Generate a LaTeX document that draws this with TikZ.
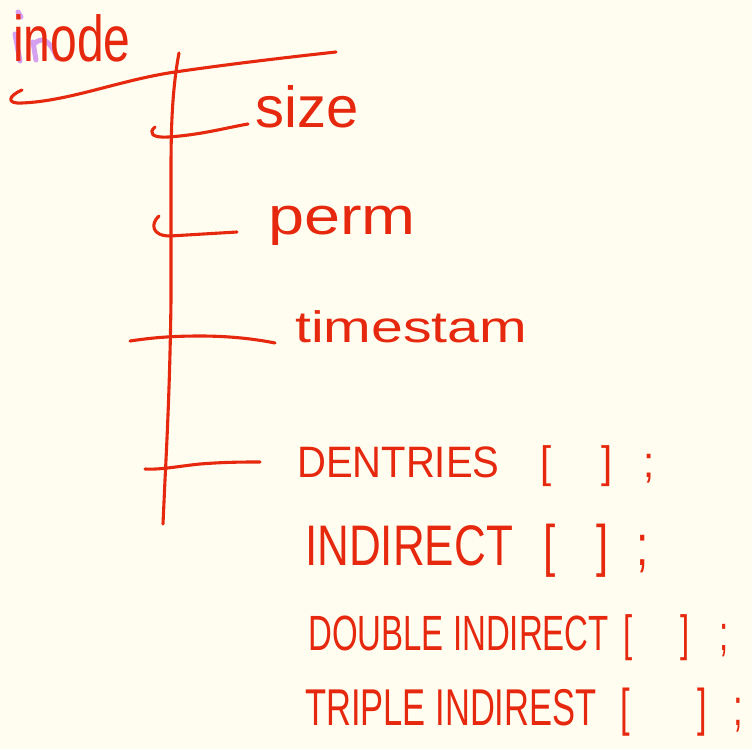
\documentclass[tikz,border=0pt]{standalone}
\usepackage{fontspec}
\setmainfont{Liberation Sans}
\usepackage{graphicx}
\definecolor{ink}{RGB}{230,40,14}
\definecolor{paper}{RGB}{255,253,240}
\definecolor{lav}{RGB}{214,160,240}
\tikzset{
  pen/.style={draw=ink, line width=3.1pt, line cap=round, line join=round},
  hl/.style={draw=lav, line width=5pt, line cap=round, line join=round},
  hand/.style={text=ink, inner sep=0pt, anchor=base west},
}
\begin{document}
\begin{tikzpicture}[x=1pt,y=-1pt]
\fill[paper] (0,0) rectangle (752,749);
\useasboundingbox (0,0) rectangle (752,749);
% lavender highlight under "in"
\draw[hl] (18,12) -- (21,17);
\draw[hl] (15,34) -- (20,61);
\draw[hl] (33,42) -- (36,60);
\draw[hl] (34,44) .. controls (42,36) and (50,40) .. (57,58);
% title
\node[hand, font=\fontsize{48}{52}\selectfont] (inode) at (13,62) {\scalebox{1}[1.35]{inode}};
% top bar and spine
\coordinate (tbL) at (22,90);
\coordinate (tbR) at (336,52);
\draw[pen] (tbL) .. controls (8,96) and (6,104) .. (22,103)
  .. controls (70,101) and (120,80) .. (175,72)
  .. controls (230,64) and (290,57) .. (tbR);
\coordinate (spT) at (179,53);
\coordinate (spB) at (163,524);
\draw[pen] (spT) .. controls (172,90) and (171,130) .. (171,170)
  -- (171,300) .. controls (170,380) and (167,440) .. (165,480) -- (spB);
% field labels
\node[hand, font=\fontsize{58}{60}\selectfont] (size) at (255,128) {size};
\node[hand, font=\fontsize{48}{52}\selectfont] (perm) at (268,234) {\scalebox{1.35}[1.1]{perm}};
\node[hand, font=\fontsize{44}{48}\selectfont] (ts) at (295,342) {\scalebox{1.3}[1]{timestam}};
\node[hand, font=\fontsize{40}{44}\selectfont] (dent) at (297,477)
  {\scalebox{1}[1.1]{DENTRIES\hspace{41pt}[\hspace{50pt}]\hspace{31pt};}};
\node[hand, font=\fontsize{44}{48}\selectfont] (ind) at (305,565)
  {\scalebox{1}[1.3]{INDIRECT\hspace{31pt}[\hspace{40pt}]\hspace{28pt};}};
\node[hand, font=\fontsize{33}{36}\selectfont] (dind) at (308,650)
  {\scalebox{1}[1.5]{DOUBLE INDIRECT\hspace{15pt}[\hspace{47pt}]\hspace{30pt};}};
\node[hand, font=\fontsize{34.5}{38}\selectfont] (tind) at (305,725)
  {\scalebox{1}[1.5]{TRIPLE INDIREST\hspace{24pt}[\hspace{67pt}]\hspace{27pt};}};
% branches
\coordinate (b1s) at (155,127);
\coordinate (b2s) at (159,216);
\coordinate (b3s) at (130,341);
\coordinate (b4s) at (145,469);
\draw[pen] (b1s) .. controls (148,133) and (152,138) .. (168,137)
  .. controls (200,135) and (225,128) .. (248,124);
\draw[pen] (b2s) .. controls (150,224) and (152,236) .. (170,236) -- (237,232);
\draw[pen] (b3s) .. controls (150,338) and (170,336) .. (200,336)
  .. controls (230,336) and (255,339) .. (275,343);
\draw[pen] (b4s) .. controls (160,470) and (180,466) .. (200,464)
  .. controls (225,462) and (245,462) .. (260,462);
\end{tikzpicture}
\end{document}
